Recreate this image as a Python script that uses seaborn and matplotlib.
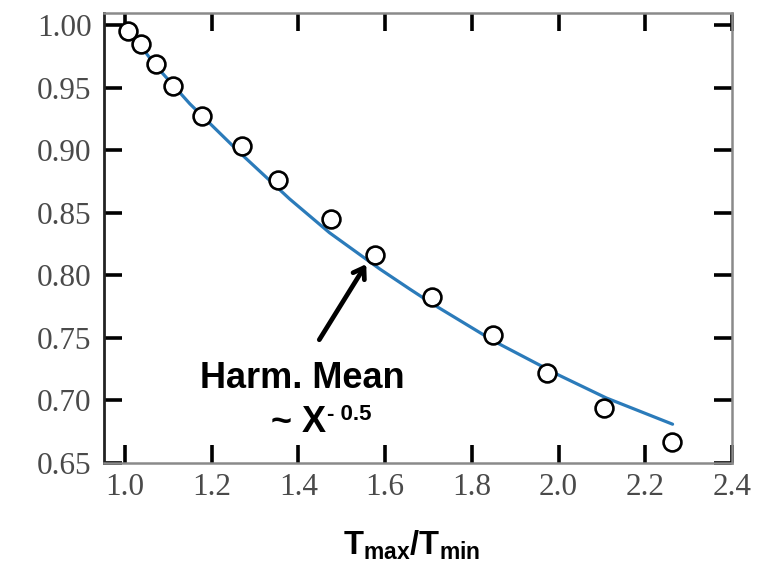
import matplotlib
matplotlib.use("Agg")
import matplotlib.pyplot as plt
import seaborn as sns
import pandas as pd

# ---- data ----
ratio_pts = [1.008, 1.038, 1.071, 1.110, 1.177, 1.271, 1.353, 1.475, 1.578,
             1.709, 1.850, 1.973, 2.104, 2.261]
value_pts = [0.995, 0.985, 0.969, 0.951, 0.927, 0.903, 0.876, 0.845, 0.816,
             0.783, 0.752, 0.722, 0.694, 0.667]

ratio_fit = [1.0, 1.07, 1.15, 1.265, 1.38, 1.472, 1.588, 1.657, 1.71, 1.853,
             2.002, 2.11, 2.263]
value_fit = [1.0, 0.968, 0.937, 0.898, 0.861, 0.834, 0.805, 0.789, 0.777,
             0.747, 0.720, 0.702, 0.681]

x_ticks = [1.0, 1.2, 1.4, 1.6, 1.8, 2.0, 2.2, 2.4]
x_ticklabels = ["1.0", "1.2", "1.4", "1.6", "1.8", "2.0", "2.2", "2.4"]
y_ticks = [0.65, 0.70, 0.75, 0.80, 0.85, 0.90, 0.95, 1.00]
y_ticklabels = ["0.65", "0.70", "0.75", "0.80", "0.85", "0.90", "0.95", "1.00"]

df_pts = pd.DataFrame({"ratio": ratio_pts, "value": value_pts})
df_fit = pd.DataFrame({"ratio": ratio_fit, "value": value_fit})

sns.set_theme(style="white")
plt.rcParams["font.family"] = ["Liberation Sans", "DejaVu Sans"]
plt.rcParams["mathtext.fontset"] = "custom"
plt.rcParams["mathtext.bf"] = "Liberation Sans:bold"
plt.rcParams["mathtext.rm"] = "Liberation Sans"

W, H = 771, 567
fig = plt.figure(figsize=(W / 100, H / 100), dpi=100)
ax = fig.add_axes([104 / W, 1 - 463 / H, (732 - 104) / W, (463 - 13) / H])

sns.lineplot(data=df_fit, x="ratio", y="value", ax=ax, color="#2b7bba",
             linewidth=2.3, sort=False, zorder=2)
sns.scatterplot(data=df_pts, x="ratio", y="value", ax=ax, marker="o",
                s=165, facecolor="white", edgecolor="black", linewidth=1.9,
                zorder=3)

ax.set_xlim(0.952, 2.4)
ax.set_ylim(0.65, 1.0096)
ax.set_xticks(x_ticks)
ax.set_xticklabels(x_ticklabels)
ax.set_yticks(y_ticks)
ax.set_yticklabels(y_ticklabels)
ax.set_xlabel("")
ax.set_ylabel("")

ax.tick_params(axis="both", which="major", direction="in", length=13,
               width=2.6, color="black", labelsize=22.5, labelcolor="#4a4a4a",
               top=True, right=True, bottom=True, left=True)
ax.tick_params(axis="y", pad=9)
ax.tick_params(axis="x", pad=7)
for lab in ax.get_xticklabels() + ax.get_yticklabels():
    lab.set_fontfamily("Liberation Serif")

for side in ["top", "right", "bottom"]:
    ax.spines[side].set_color("#8a8a8a")
    ax.spines[side].set_linewidth(1.8)
ax.spines["left"].set_color("#222222")
ax.spines["left"].set_linewidth(2.0)

# annotation arrow
ax.annotate("", xy=(1.560, 0.8108), xytext=(1.445, 0.7466),
            arrowprops=dict(arrowstyle="->,head_length=0.6,head_width=0.4",
                            lw=3.4, color="black"))

# annotation text
fig.text(302 / W, 1 - 388 / H, "Harm. Mean", fontsize=26, fontweight="bold",
         ha="center", va="baseline", color="black")
fig.text(326 / W, 1 - 432 / H, "~ X", fontsize=26, fontweight="bold",
         ha="right", va="baseline", color="black")
fig.text(327 / W, 1 - 420 / H, "- 0.5", fontsize=16, fontweight="bold",
         ha="left", va="baseline", color="black")

# x label
fig.text(412 / W, 1 - 555 / H, r"$\mathbf{T_{max}/T_{min}}$", fontsize=23.5,
         ha="center", va="baseline", color="black")

fig.savefig("out.png", dpi=100)
